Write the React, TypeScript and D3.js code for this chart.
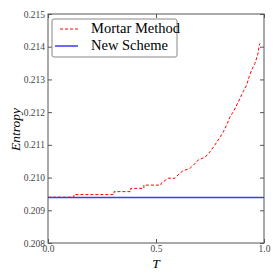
import React, { useEffect, useRef } from "react";
import * as d3 from "d3";

// values
const mortarT = [0, 0.12, 0.12, 0.306, 0.306, 0.383, 0.383, 0.444, 0.444, 0.522, 0.525, 0.556, 0.588, 0.602, 0.625, 0.657, 0.673, 0.696, 0.727, 0.75, 0.773, 0.788, 0.812, 0.827, 0.843, 0.858, 0.874, 0.889, 0.904, 0.92, 0.931, 0.943, 0.958, 0.971, 0.978, 0.981];
const mortarE = [0.2094, 0.2094, 0.20948, 0.20948, 0.20957, 0.20957, 0.20967, 0.20967, 0.20977, 0.20977, 0.20983, 0.20998, 0.20998, 0.21008, 0.21021, 0.21028, 0.21038, 0.21054, 0.21062, 0.21079, 0.211, 0.21115, 0.2114, 0.21161, 0.21186, 0.21201, 0.21222, 0.21242, 0.21263, 0.21283, 0.21308, 0.21329, 0.21349, 0.21375, 0.21405, 0.2141];
const newSchemeT = [0, 1];
const newSchemeE = [0.20939, 0.20939];
const yTicks = [0.208, 0.209, 0.21, 0.211, 0.212, 0.213, 0.214, 0.215];
const xTicks = [0, 0.5, 1];
const legendNames = ["Mortar Method", "New Scheme"];

const App = () => {
  const svgRef = useRef<SVGSVGElement>(null);
  const w = 280;
  const h = 280;
  const m = { top: 14, right: 16, bottom: 37, left: 48 };

  useEffect(() => {
    const svg = d3.select(svgRef.current);
    svg.selectAll("*").remove();
    const font = "'Liberation Serif', serif";

    const x = d3.scaleLinear().domain([0, 1]).range([m.left, w - m.right]);
    const y = d3.scaleLinear().domain([0.208, 0.215]).range([h - m.bottom, m.top]);

    // blue reference line
    const pathNew = d3
      .line<number>()
      .x((d) => x(d))
      .y((d, i) => y(newSchemeE[i]));
    svg
      .append("path")
      .attr("d", pathNew(newSchemeT))
      .attr("fill", "none")
      .attr("stroke", "#3a3aff")
      .attr("stroke-width", 1.5);

    // red dashed mortar curve
    const pathMortar = d3
      .line<number>()
      .x((d) => x(d))
      .y((d, i) => y(mortarE[i]));
    svg
      .append("path")
      .attr("d", pathMortar(mortarT))
      .attr("fill", "none")
      .attr("stroke", "#ff0000")
      .attr("stroke-width", 1)
      .attr("stroke-dasharray", "3,2");

    // frame
    svg
      .append("rect")
      .attr("x", x(0))
      .attr("y", y(0.215))
      .attr("width", x(1) - x(0))
      .attr("height", y(0.208) - y(0.215))
      .attr("fill", "none")
      .attr("stroke", "#555")
      .attr("stroke-width", 1);

    //axes, ticks point inward on all four sides
    const left = d3.axisLeft(y).tickValues(yTicks).tickSizeInner(-4).tickSizeOuter(0).tickPadding(3).tickFormat(d3.format(".3f"));
    const right = d3.axisRight(y).tickValues(yTicks).tickSizeInner(-4).tickSizeOuter(0).tickFormat(() => "");
    const bottom = d3.axisBottom(x).tickValues(xTicks).tickSizeInner(-4).tickSizeOuter(0).tickPadding(2).tickFormat(d3.format(".1f"));
    const top = d3.axisTop(x).tickValues(xTicks).tickSizeInner(-4).tickSizeOuter(0).tickFormat(() => "");

    const styleAxis = (g: any) => {
      g.attr("font-family", font);
      g.select(".domain").remove();
      g.selectAll("line").attr("stroke", "#555");
      g.selectAll("text").attr("fill", "#444").attr("font-size", 9.5);
    };
    svg.append("g").attr("transform", `translate(${m.left},0)`).call(left).call(styleAxis);
    svg.append("g").attr("transform", `translate(${w - m.right},0)`).call(right).call(styleAxis);
    svg.append("g").attr("transform", `translate(0,${h - m.bottom})`).call(bottom).call(styleAxis);
    svg.append("g").attr("transform", `translate(0,${m.top})`).call(top).call(styleAxis);

    // axis labels
    svg
      .append("text")
      .attr("x", x(0.5))
      .attr("y", 268)
      .attr("text-anchor", "middle")
      .attr("font-family", font)
      .attr("font-style", "italic")
      .attr("font-size", 13.5)
      .text("T");
    svg
      .append("text")
      .attr("transform", `translate(20,${(m.top + h - m.bottom) / 2 + 1}) rotate(-90)`)
      .attr("text-anchor", "middle")
      .attr("font-family", font)
      .attr("font-style", "italic")
      .attr("font-size", 13.5)
      .text("Entropy");

    // legend
    const lg = svg.append("g").attr("transform", "translate(52,19)");
    lg.append("rect")
      .attr("width", 125)
      .attr("height", 38)
      .attr("rx", 2)
      .attr("fill", "white")
      .attr("stroke", "#888")
      .attr("stroke-width", 1);
    legendNames.forEach((name, i) => {
      const ly = 10 + i * 17;
      lg.append("line")
        .attr("x1", i === 0 ? 8 : 3)
        .attr("x2", 26)
        .attr("y1", ly)
        .attr("y2", ly)
        .attr("stroke", i === 0 ? "#ff0000" : "#3a3aff")
        .attr("stroke-width", i === 0 ? 1 : 1.5)
        .attr("stroke-dasharray", i === 0 ? "3,2" : null);
      lg.append("text")
        .attr("x", 39)
        .attr("y", ly + 4)
        .attr("font-family", font)
        .attr("font-size", 14.5)
        .text(name);
    });
  }, []);

  return (
    <svg
      ref={svgRef}
      width={w}
      height={h}
      style={{ position: "absolute", left: 0, top: 0, background: "white" }}
    />
  );
};

export default App;
